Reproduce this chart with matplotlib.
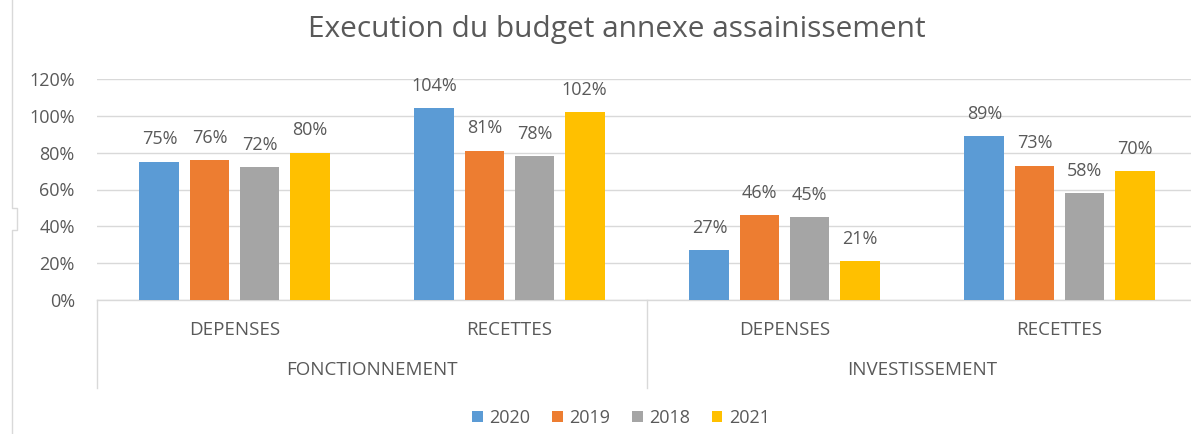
import matplotlib.pyplot as plt
import matplotlib.transforms as mtransforms
from matplotlib.lines import Line2D
from matplotlib.patches import Patch

# data
groups = ['FONCTIONNEMENT', 'INVESTISSEMENT']
categories = ['DEPENSES', 'RECETTES', 'DEPENSES', 'RECETTES']
years = ['2020', '2019', '2018', '2021']
values_2020 = [75, 104, 27, 89]
values_2019 = [76, 81, 46, 73]
values_2018 = [72, 78, 45, 58]
values_2021 = [80, 102, 21, 70]
series = [values_2020, values_2019, values_2018, values_2021]
colors = ['#5B9BD5', '#ED7D31', '#A5A5A5', '#FFC000']
text_color = '#595959'

plt.rcParams['font.family'] = ['Open Sans', 'DejaVu Sans']

fig = plt.figure(figsize=(11.91, 4.34), dpi=100)
ax = fig.add_axes([97 / 1191, (434 - 300) / 434, 1100 / 1191, 221 / 434])

x = list(range(len(categories)))
pitch = 0.182
width = 0.145
for i, (vals, col, yr) in enumerate(zip(series, colors, years)):
    pos = [xi + (i - 1.5) * pitch for xi in x]
    bars = ax.bar(pos, vals, width=width, color=col, label=yr, zorder=3)
    for b, v in zip(bars, vals):
        ax.text(b.get_x() + b.get_width() / 2, v + 9.5, f'{v}%', ha='center',
                va='baseline', fontsize=13, color=text_color)

ax.set_xlim(-0.5, 3.5)
ax.set_ylim(0, 120)
ax.set_yticks(range(0, 121, 20))
ax.set_yticklabels([f'{t}%' for t in range(0, 121, 20)], fontsize=13, color=text_color)
ax.tick_params(axis='y', length=0, pad=16)
ax.set_xticks([])
ax.grid(axis='y', color='#D9D9D9', linewidth=1, zorder=0)
for s in ['top', 'right', 'left']:
    ax.spines[s].set_visible(False)
ax.spines['bottom'].set_color('#D9D9D9')
ax.spines['bottom'].set_linewidth(1)

# two-level category axis
trans = mtransforms.blended_transform_factory(ax.transData, ax.transAxes)
for xi, cat in zip(x, categories):
    ax.text(xi, -0.136, cat, transform=trans, ha='center', va='center',
            fontsize=13.5, color=text_color)
for gi, g in enumerate(groups):
    ax.text(gi * 2 + 0.5, -0.317, g, transform=trans, ha='center', va='center',
            fontsize=13.5, color=text_color)
for xs in [-0.5, 1.5, 3.5]:
    ax.plot([xs, xs], [0, -0.398], transform=trans, color='#D9D9D9',
            linewidth=1, clip_on=False)

fig.suptitle('Execution du budget annexe assainissement', x=617 / 1191, y=1 - 30 / 434,
             va='center', fontsize=21.5, color=text_color)

handles = [Patch(facecolor=c, label=y) for c, y in zip(colors, years)]
fig.legend(handles=handles, loc='center', bbox_to_anchor=(621 / 1191, 1 - 418 / 434),
           ncol=4, frameon=False, fontsize=13, handlelength=0.6, handleheight=0.6,
           columnspacing=1.2, handletextpad=0.35, labelcolor=text_color)

# outer chart border on the left, with the small notch of the reference
bx = [12, 12, 17, 17, 12, 12]
by = [0, 208, 208, 230, 230, 434]
fig.add_artist(Line2D([v / 1191 for v in bx], [1 - v / 434 for v in by],
                      color='#D9D9D9', linewidth=1))

fig.savefig('out.png', dpi=100)
